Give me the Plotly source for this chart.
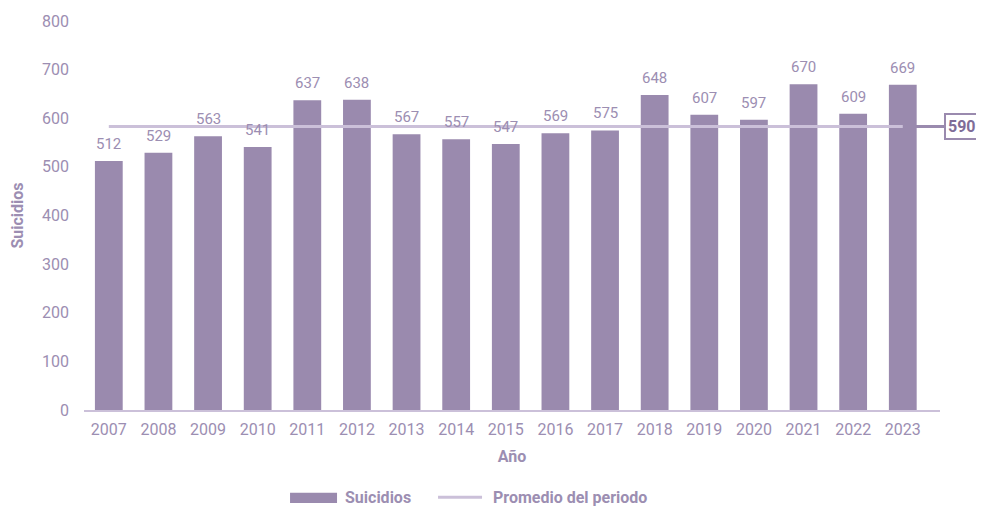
import plotly.graph_objects as go

# Data
YEARS = ['2007', '2008', '2009', '2010', '2011', '2012', '2013', '2014', '2015',
         '2016', '2017', '2018', '2019', '2020', '2021', '2022', '2023']
SUICIDIOS = [512, 529, 563, 541, 637, 638, 567, 557, 547,
             569, 575, 648, 607, 597, 670, 609, 669]
PROMEDIO_LABEL = '590'
PROMEDIO_LINE = 583   # level at which the line is drawn in the picture

BAR_COLOR = '#9a8aae'
LINE_COLOR = '#cbc0d9'
TEXT_COLOR = '#9c8eb2'
DARK_COLOR = '#7f6d98'
FONT = 'Roboto'

fig = go.Figure()

fig.add_trace(go.Bar(x=YEARS, y=SUICIDIOS, name='Suicidios',
                     marker_color=BAR_COLOR, marker_line_width=0,
                     showlegend=False, hoverinfo='x+y'))

# value labels above the bars (annotation x = category index)
for i, val in enumerate(SUICIDIOS):
    fig.add_annotation(x=i, y=val, text=str(val), showarrow=False,
                       yanchor='bottom', yshift=6,
                       font=dict(family=FONT, size=15, color=TEXT_COLOR))

# average line across the period (on top of the bars)
fig.add_trace(go.Scatter(x=YEARS, y=[PROMEDIO_LINE] * len(YEARS), mode='lines',
                         name='Promedio del periodo',
                         line=dict(color=LINE_COLOR, width=3),
                         hoverinfo='skip', showlegend=False))

# darker tail of the average line leading to the value box
fig.add_shape(type='line', xref='paper', yref='y',
              x0=0.957, x1=1.006, y0=PROMEDIO_LINE, y1=PROMEDIO_LINE,
              line=dict(color=BAR_COLOR, width=3))
fig.add_annotation(xref='paper', yref='y', x=1.0047, y=PROMEDIO_LINE,
                   xanchor='left', yanchor='middle', showarrow=False,
                   text='<b>' + PROMEDIO_LABEL + '</b>',
                   font=dict(family=FONT, size=16, color=DARK_COLOR),
                   bgcolor='white', bordercolor=BAR_COLOR, borderwidth=2, borderpad=2)

# hand-made legend (wide bar swatch like the original)
fig.add_shape(type='rect', xref='paper', yref='paper',
              x0=0.2407, x1=0.2956, y0=-0.239, y1=-0.213,
              fillcolor=BAR_COLOR, line_width=0)
fig.add_annotation(xref='paper', yref='paper', x=0.303, y=-0.226,
                   xanchor='left', yanchor='middle', showarrow=False,
                   text='<b>Suicidios</b>', font=dict(family=FONT, size=16, color=TEXT_COLOR))
fig.add_shape(type='line', xref='paper', yref='paper',
              x0=0.4136, x1=0.465, y0=-0.224, y1=-0.224,
              line=dict(color=LINE_COLOR, width=3))
fig.add_annotation(xref='paper', yref='paper', x=0.4755, y=-0.226,
                   xanchor='left', yanchor='middle', showarrow=False,
                   text='<b>Promedio del periodo</b>', font=dict(family=FONT, size=16, color=TEXT_COLOR))

# the page body adds an 8px offset, margins compensate for it
fig.update_layout(width=984, height=506,
                  margin=dict(l=76, r=52, t=13, b=104),
                  plot_bgcolor='white', paper_bgcolor='white',
                  bargap=0.44,
                  font=dict(family=FONT, color=TEXT_COLOR))
fig.update_xaxes(type='category', range=[-0.5, 16.75], automargin=False,
                 showgrid=False, showline=True,
                 linecolor=LINE_COLOR, linewidth=2,
                 tickfont=dict(family=FONT, size=16, color=TEXT_COLOR),
                 ticks='', ticklabelstandoff=4,
                 title=dict(text='<b>Año</b>', standoff=13,
                            font=dict(family=FONT, size=16, color=TEXT_COLOR)))
fig.update_yaxes(range=[0, 800], dtick=100, automargin=False,
                 showgrid=False, zeroline=False,
                 showline=False, ticks='', ticklabelstandoff=14,
                 tickfont=dict(family=FONT, size=16, color=TEXT_COLOR),
                 title=dict(text='<b>Suicidios</b>', standoff=14,
                            font=dict(family=FONT, size=16, color=TEXT_COLOR)))

fig.write_html('out.html')
